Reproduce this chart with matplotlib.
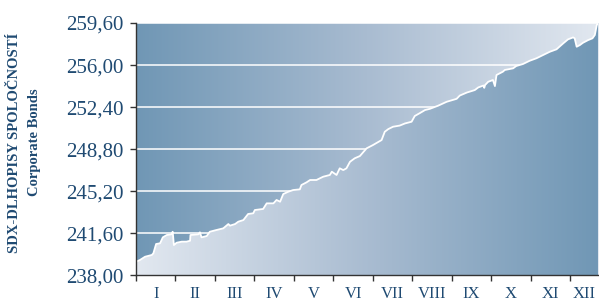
import numpy as np
import matplotlib
matplotlib.use("Agg")
import matplotlib.pyplot as plt
from matplotlib.colors import LinearSegmentedColormap
from matplotlib.patches import Polygon

# month position (0 = start of January) and index value
months = [0.00, 0.10, 0.23, 0.40, 0.44, 0.51, 0.61, 0.68, 0.78, 0.90, 0.93, 0.96,
          1.03, 1.16, 1.28, 1.37, 1.38, 1.58, 1.62, 1.66, 1.79, 1.87, 2.04, 2.21,
          2.34, 2.38, 2.51, 2.59, 2.72, 2.84, 2.97, 3.01, 3.22, 3.31, 3.48, 3.56,
          3.65, 3.73, 3.86, 3.98, 4.15, 4.19, 4.32, 4.41, 4.57, 4.74, 4.91, 4.96,
          5.08, 5.16, 5.25, 5.33, 5.42, 5.54, 5.67, 5.84, 6.00, 6.22, 6.30, 6.39,
          6.51, 6.68, 6.81, 6.98, 7.06, 7.19, 7.32, 7.44, 7.65, 7.87, 8.12, 8.20,
          8.38, 8.58, 8.67, 8.80, 8.82, 8.84, 8.92, 9.04, 9.09, 9.13, 9.29, 9.34,
          9.55, 9.63, 9.80, 9.97, 10.14, 10.31, 10.48, 10.65, 10.82, 10.94, 11.07,
          11.11, 11.16, 11.24, 11.32, 11.45, 11.56, 11.62, 11.67, 11.70]
values = [239.16, 239.31, 239.59, 239.74, 239.88, 240.68, 240.74, 241.25, 241.45,
          241.51, 241.73, 240.59, 240.79, 240.88, 240.88, 240.96, 241.45, 241.51,
          241.68, 241.25, 241.36, 241.73, 241.88, 242.02, 242.39, 242.25, 242.39,
          242.59, 242.73, 243.25, 243.31, 243.59, 243.68, 244.16, 244.16, 244.45,
          244.30, 244.96, 245.16, 245.30, 245.36, 245.73, 245.96, 246.16, 246.16,
          246.44, 246.59, 246.87, 246.59, 247.16, 247.01, 247.16, 247.72, 248.02,
          248.21, 248.87, 249.15, 249.58, 250.29, 250.52, 250.72, 250.82, 251.00,
          251.15, 251.64, 251.89, 252.15, 252.25, 252.52, 252.86, 253.11, 253.39,
          253.65, 253.86, 254.09, 254.25, 254.05, 254.29, 254.57, 254.72, 254.20,
          255.15, 255.43, 255.58, 255.72, 255.92, 256.09, 256.37, 256.58, 256.86,
          257.14, 257.35, 257.86, 258.20, 258.37, 258.29, 257.57, 257.71, 257.91,
          258.14, 258.29, 258.57, 259.43, 259.55]

y_ticks = [238.00, 241.60, 245.20, 248.80, 252.40, 256.00, 259.60]
y_labels = ["238,00", "241,60", "245,20", "248,80", "252,40", "256,00", "259,60"]
month_labels = ["I", "II", "III", "IV", "V", "VI", "VII", "VIII", "IX", "X", "XI", "XII"]
ylabel_lines = ["SDX-DLHOPISY SPOLOČNOSTÍ", "Corporate Bonds"]

navy = "#1f4a72"
dark = "#7097b5"
light = "#e2e8f0"

fig = plt.figure(figsize=(5.99, 3.03), dpi=100)
ax = fig.add_axes([0.227, 0.0914, 0.7713, 0.8326])

xmin, xmax = 0, months[-1]
ymin, ymax = y_ticks[0], y_ticks[-1]
ax.set_xlim(xmin, xmax)
ax.set_ylim(ymin, ymax)

grad = np.linspace(0, 1, 256).reshape(1, -1)
cmap_top = LinearSegmentedColormap.from_list("top", [dark, "#a9bcd1", light])
cmap_bot = LinearSegmentedColormap.from_list("bot", [light, "#a9bcd1", dark])
ax.imshow(grad, cmap=cmap_top, aspect="auto", extent=[xmin, xmax, ymin, ymax],
          zorder=0, interpolation="bilinear")

for yv in y_ticks[1:]:
    ax.axhline(yv, color="white", lw=1.1, zorder=1)

poly_pts = [(xmin, ymin)] + list(zip(months, values)) + [(xmax, ymin)]
poly = Polygon(poly_pts, closed=True, transform=ax.transData, facecolor="none",
               edgecolor="none")
ax.add_patch(poly)
im2 = ax.imshow(grad, cmap=cmap_bot, aspect="auto", extent=[xmin, xmax, ymin, ymax],
                zorder=2, interpolation="bilinear")
im2.set_clip_path(poly)

ax.plot(months, values, color="white", lw=1.3, zorder=3)

for s in ["top", "right"]:
    ax.spines[s].set_visible(False)
for s in ["left", "bottom"]:
    ax.spines[s].set_color("#333333")
    ax.spines[s].set_linewidth(1.0)
    ax.spines[s].set_zorder(4)

serif = "Liberation Serif"
ax.set_yticks(y_ticks)
ax.set_yticklabels(y_labels, fontfamily=serif, fontsize=15, color=navy)
ax.tick_params(axis="y", direction="out", length=4, width=1, color="#333333", pad=5)

ax.set_xticks(range(12))
ax.set_xticklabels([])
ax.tick_params(axis="x", which="major", direction="out", length=4, width=1,
               color="#333333")
centers = [i + 0.5 for i in range(11)] + [(11 + xmax) / 2]
ax.set_xticks(centers, minor=True)
ax.set_xticklabels(month_labels, minor=True, fontfamily=serif, fontsize=12,
                   color=navy)
ax.tick_params(axis="x", which="minor", length=0, pad=7.5)

fig.text(0.025, 0.53, ylabel_lines[0], rotation=90, ha="center", va="center",
         fontfamily=serif, fontweight="bold", fontsize=10.5, color=navy)
fig.text(0.058, 0.53, ylabel_lines[1], rotation=90, ha="center", va="center",
         fontfamily=serif, fontweight="bold", fontsize=10.5, color=navy)

fig.savefig("out.png", dpi=100)
